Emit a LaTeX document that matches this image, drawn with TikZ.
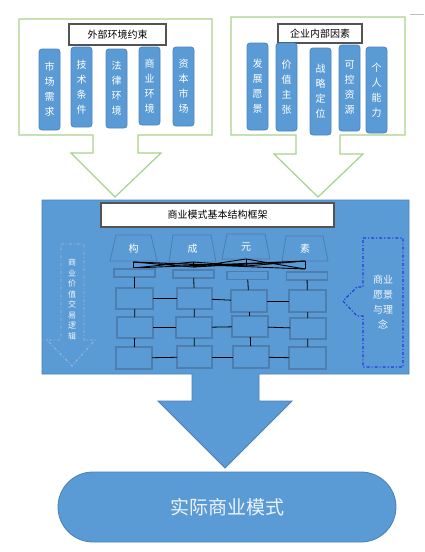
\documentclass[tikz,border=0pt]{standalone}
\usepackage{fontspec}
\setmainfont{Noto Sans CJK SC}
\begin{document}
\begin{tikzpicture}[x=1pt,y=-1pt,
  every node/.style={inner sep=0pt,outer sep=0pt},
  pill/.style={draw=pillborder,fill=obl,rounded corners=3pt,line width=0.8pt,minimum width=21pt,
    text=white,align=center,font=\fontsize{10}{15}\selectfont},
  titlebox/.style={draw=darkgray!90,fill=white,line width=1.2pt,font=\fontsize{10}{12}\selectfont},
  gbox/.style={draw=gborder,fill=obl,line width=1.1pt},
  bar/.style={draw=gborder,fill=obl,line width=1.1pt,minimum width=41pt,minimum height=8pt},
  link/.style={draw=black,line width=0.8pt},
  trap/.style={draw=gborder,fill=obl,line width=0.8pt},
  traplabel/.style={text=white,align=center,font=\fontsize{10}{15}\selectfont}]
\definecolor{lgreen}{HTML}{A9D18E}
\definecolor{obl}{HTML}{5B9BD5}
\definecolor{pillborder}{HTML}{4A86C2}
\definecolor{gborder}{HTML}{4D7EAE}
\definecolor{regborder}{HTML}{4A80B8}
\definecolor{dashgrey}{HTML}{A3B8D4}
\definecolor{dashblue}{HTML}{2438E0}
\useasboundingbox (0,0) rectangle (424,552);
\fill[white] (0,0) rectangle (424,552);
\draw[lightgray,line width=0.8pt] (410,14) -- (424,14);

% green arrows
\draw[lgreen,line width=1.2pt,fill=white] (19,19) -- (212,19) -- (212,135) -- (138,135) -- (138,153) -- (161,153) -- (115,197) -- (71,153) -- (93,153) -- (93,135) -- (19,135) -- cycle;
\draw[lgreen,line width=1.2pt,fill=white] (231,17) -- (405,17) -- (405,135) -- (340,135) -- (340,154) -- (363,154) -- (318,197) -- (274,154) -- (296,154) -- (296,135) -- (231,135) -- cycle;

\node[titlebox,minimum width=97pt,minimum height=21pt] (t1) at (117.5,34.5) {外部环境约束};
\node[titlebox,minimum width=84pt,minimum height=19pt] (t2) at (320,33.5) {企业内部因素};

\node[pill,minimum height=81pt] (a1) at (49.5,89.5) {市\\场\\需\\求};
\node[pill,minimum height=80pt] (a2) at (81.5,87) {技\\术\\条\\件};
\node[pill,minimum height=79pt] (a3) at (116.5,88.5) {法\\律\\环\\境};
\node[pill,minimum height=78pt] (a4) at (149.5,86) {商\\业\\环\\境};
\node[pill,minimum height=79pt] (a5) at (183.5,86.5) {资\\本\\市\\场};

\node[pill,minimum height=87pt] (b1) at (257.5,86.5) {发\\展\\愿\\景};
\node[pill,minimum height=88pt] (b2) at (286.5,87) {价\\值\\主\\张};
\node[pill,minimum height=87pt] (b3) at (320.5,91.5) {战\\略\\定\\位};
\node[pill,minimum height=86pt] (b4) at (349.5,88) {可\\控\\资\\源};
\node[pill,minimum height=86pt] (b5) at (376.5,90) {个\\人\\能\\力};

% blue region with big arrow
\draw[regborder,line width=0.8pt,fill=obl] (42,200) -- (409,200) -- (409,374) -- (259,374) -- (259,401) -- (292,401) -- (225,468) -- (158,401) -- (192,401) -- (192,374) -- (42,374) -- cycle;

\node[titlebox,minimum width=233pt,minimum height=24pt] (main) at (217.5,215) {商业模式基本结构框架};

% trapezoids
\draw[trap] (116,235) -- (151,235) -- (157,261) -- (110,261) -- cycle;
\draw[trap] (173,235) -- (211,235) -- (216,262) -- (169,262) -- cycle;
\draw[trap] (227,234) -- (265,234) -- (270,259) -- (222,259) -- cycle;
\draw[trap] (286,236) -- (323,236) -- (328,261) -- (282,261) -- cycle;
\node[traplabel] (k1) at (133.5,249) {构};
\node[traplabel] (k2) at (192.5,249) {成};
\node[traplabel] (k3) at (246,247) {元};
\node[traplabel] (k4) at (305,249) {素};

% crossing lines
\coordinate (p1t) at (133,262); \coordinate (p1b) at (133,268);
\coordinate (p2t) at (193,262); \coordinate (p2b) at (193,267);
\coordinate (p3t) at (246,259); \coordinate (p3b) at (246,266);
\coordinate (p4t) at (305,261); \coordinate (p4b) at (305,269);
\draw[black,line width=0.9pt] (p1t) -- (p1b) (p2t) -- (p2b) (p3t) -- (p3b) (p4t) -- (p4b);
\draw[black,line width=0.9pt] (p1t) -- (p2b) (p1b) -- (p2t) (p2t) -- (p3b) (p2b) -- (p3t) (p3t) -- (p4b) (p3b) -- (p4t);
\draw[black,line width=0.9pt] (p1t) -- (p4b) (p1b) -- (p4t) (p1t) -- (p3b) (p2b) -- (p4t);

% bars
\node[bar] (q1) at (134.5,273) {};
\node[bar] (q2) at (193.5,274) {};
\node[bar] (q3) at (247.5,275.5) {};
\node[bar] (q4) at (307,276) {};

% grid boxes
\node[gbox,minimum width=37pt,minimum height=21pt] (r11) at (134.5,298.5) {};
\node[gbox,minimum width=35pt,minimum height=21pt] (r12) at (194.5,298.5) {};
\node[gbox,minimum width=36pt,minimum height=22pt] (r13) at (249,301) {};
\node[gbox,minimum width=37pt,minimum height=22pt] (r14) at (307.5,301) {};
\node[gbox,minimum width=36pt,minimum height=21pt] (r21) at (135,327.5) {};
\node[gbox,minimum width=36pt,minimum height=21pt] (r22) at (194,327.5) {};
\node[gbox,minimum width=36pt,minimum height=21pt] (r23) at (250,326.5) {};
\node[gbox,minimum width=36pt,minimum height=21pt] (r24) at (308,328.5) {};
\node[gbox,minimum width=36pt,minimum height=22pt] (r31) at (134,358) {};
\node[gbox,minimum width=35pt,minimum height=22pt] (r32) at (194.5,357) {};
\node[gbox,minimum width=36pt,minimum height=22pt] (r33) at (251,357) {};
\node[gbox,minimum width=37pt,minimum height=22pt] (r34) at (307.5,358) {};

\foreach \c in {1,2,3,4}{
  \draw[link] (q\c) -- (r1\c);
  \draw[link] (r1\c) -- (r2\c);
  \draw[link] (r2\c) -- (r3\c);
}
\foreach \r in {1,2,3}{
  \draw[link] (r\r1) -- (r\r2);
  \draw[link] (r\r2) -- (r\r3);
  \draw[link] (r\r3) -- (r\r4);
}

% left dash-dot arrow
\draw[dashgrey,line width=0.8pt,dash dot] (61,244) -- (84,244) -- (84,340) -- (95,340) -- (72,366) -- (47,340) -- (61,340) -- cycle;
\node[text=white!92!obl,align=center,font=\fontsize{8}{10.5}\selectfont] (lv) at (72,299.5) {商\\业\\价\\值\\交\\易\\逻\\辑};

% right dash-dot arrow
\draw[dashblue,line width=1.1pt,dash dot] (363,238) -- (403,238) -- (403,367) -- (363,367) -- (363,316) -- (357,316) -- (343,301) -- (357,287) -- (363,287) -- cycle;
\node[text=white!92!obl,align=center,font=\fontsize{10}{15}\selectfont] (rv) at (383,302) {商业\\愿景\\与理\\念};

% bottom terminator
\node[draw=regborder,fill=obl,line width=0.8pt,rounded corners=35pt,minimum width=338pt,minimum height=70pt,
  text=white!88!obl,font=\fontsize{19}{22}\selectfont] (res) at (227,507) {实际商业模式};
\end{tikzpicture}
\end{document}
